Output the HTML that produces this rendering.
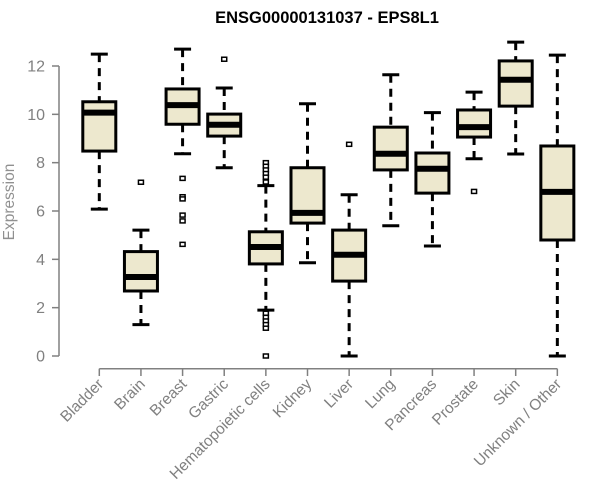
<!DOCTYPE html>
<html><head><meta charset="utf-8"><style>
html,body{margin:0;padding:0;background:#fff;}
svg{display:block;font-family:"Liberation Sans",Arial,sans-serif;}
</style></head><body>
<svg id="chart" width="600" height="500" viewBox="0 0 600 500">
<text x="327" y="23" text-anchor="middle" font-weight="bold" font-size="16.5" fill="#000">ENSG00000131037 - EPS8L1</text>
<text transform="translate(14,202) rotate(-90)" text-anchor="middle" font-size="15.5" fill="#909090">Expression</text>
<g id="axes"></g><g id="boxes"></g>
</svg>
<script>
const categories=["Bladder","Brain","Breast","Gastric","Hematopoietic cells","Kidney","Liver","Lung","Pancreas","Prostate","Skin","Unknown / Other"];
const lowWhisker=[6.08,1.30,8.37,7.79,1.90,3.86,0,5.39,4.55,8.16,8.36,0];
const q1=[8.48,2.69,9.59,9.10,3.81,5.50,3.10,7.70,6.74,9.06,10.34,4.80];
const medians=[10.07,3.27,10.38,9.57,4.51,5.92,4.19,8.37,7.75,9.47,11.43,6.79];
const q3=[10.52,4.32,11.05,10.01,5.14,7.79,5.21,9.47,8.40,10.18,12.21,8.69];
const highWhisker=[12.49,5.21,12.70,11.09,7.05,10.44,6.67,11.64,10.07,10.92,12.99,12.45];
const outliers=[[],[7.19],[7.35,6.59,6.5,5.83,5.59,4.62],[12.28],[8.0,7.85,7.7,7.55,7.4,7.2,1.77,1.6,1.45,1.3,1.15,0],[],[8.76],[],[],[6.81],[],[]];
const yTicks=[0,2,4,6,8,10,12];

const NS="http://www.w3.org/2000/svg";
const y=v=>356-v*(290/12);
const x=i=>99.3+i*41.64;
function mk(parent,tag,attrs){const e=document.createElementNS(NS,tag);for(const k in attrs)e.setAttribute(k,attrs[k]);parent.appendChild(e);return e;}
const axes=document.getElementById('axes'),boxes=document.getElementById('boxes');
const gray="#808080";
let a=mk(axes,'line',{x1:59,x2:59,y1:y(12),y2:y(0),stroke:gray,'stroke-width':1.5});


yTicks.forEach(t=>{
 let l=mk(axes,'line',{x1:52,x2:59,y1:y(t),y2:y(t),stroke:gray,'stroke-width':1.5});
 
 
 let tx=mk(axes,'text',{x:45,y:y(t)+5.5,'text-anchor':'end','font-size':16,fill:gray});
 tx.textContent=t;
 
 
});
let xa=mk(axes,'line',{x1:x(0),x2:x(categories.length-1),y1:368.7,y2:368.7,stroke:gray,'stroke-width':1.5});


categories.forEach((c,i)=>{
 const cx=x(i);
 let l=mk(axes,'line',{x1:cx,x2:cx,y1:368.7,y2:376,stroke:gray,'stroke-width':1.5});
 
 
 let t=mk(axes,'text',{x:cx+5,y:385,'text-anchor':'end','font-size':15.5,fill:gray,transform:`rotate(-45 ${cx+5} 385)`});
 t.textContent=c;
 
 
 const g=mk(boxes,'g',{});
 
 
 const st={stroke:'#000','stroke-width':3};
 mk(g,'line',Object.assign({x1:cx,x2:cx,y1:y(highWhisker[i]),y2:y(q3[i]),'stroke-dasharray':'8 6'},st));
 mk(g,'line',Object.assign({x1:cx,x2:cx,y1:y(q1[i]),y2:y(lowWhisker[i]),'stroke-dasharray':'8 6'},st));
 mk(g,'line',Object.assign({x1:cx-8.5,x2:cx+8.5,y1:y(highWhisker[i]),y2:y(highWhisker[i])},st));
 mk(g,'line',Object.assign({x1:cx-8.5,x2:cx+8.5,y1:y(lowWhisker[i]),y2:y(lowWhisker[i])},st));
 mk(g,'rect',Object.assign({x:cx-16.5,y:y(q3[i]),width:33,height:y(q1[i])-y(q3[i]),fill:'#ede8ce'},st));
 mk(g,'line',{x1:cx-16.5,x2:cx+16.5,y1:y(medians[i]),y2:y(medians[i]),stroke:'#000','stroke-width':6});
 outliers[i].forEach(o=>{
  let p=mk(g,'rect',{x:cx-2.5,y:y(o)-2,width:5,height:4,fill:'#fff',stroke:'#000','stroke-width':1.5});
  
  
 });
});
</script>
</body></html>
